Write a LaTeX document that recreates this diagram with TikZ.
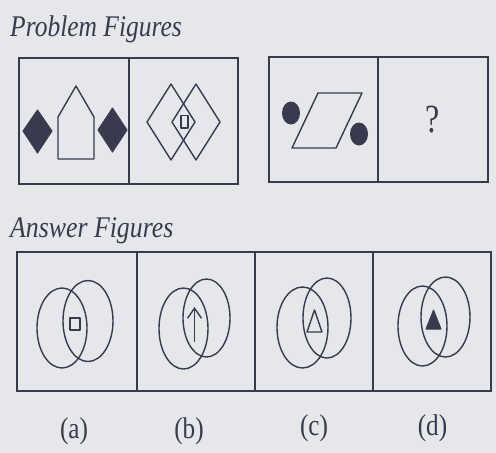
\documentclass[tikz,border=0pt]{standalone}
\usepackage{fontspec}
\setmainfont{Liberation Serif}
\usetikzlibrary{arrows.meta}
\definecolor{bg}{RGB}{229,231,234}
\definecolor{ink}{RGB}{58,58,78}
\begin{document}
\begin{tikzpicture}[x=1pt,y=-1pt,
  line/.style={draw=ink,line width=1.4pt,line join=round},
  frame/.style={draw=ink,line width=1.6pt},
  solid shape/.style={fill=ink,draw=ink,line width=1pt,line join=round},
  title/.style={font=\fontsize{30}{34}\selectfont\itshape,text=ink,anchor=base west,inner sep=0pt},
  lab/.style={font=\fontsize{30}{34}\selectfont,text=ink,anchor=base,inner sep=0pt}]
\fill[bg] (0,0) rectangle (496,453);
\useasboundingbox (0,0) rectangle (496,453);
% titles
\node[title] (pt) at (10,36) {\scalebox{0.85}[1]{Problem Figures}};
\node[title] (at) at (10,237) {\scalebox{0.86}[1]{Answer Figures}};
% problem box 1
\draw[frame] (19,58) rectangle (238,184);
\draw[frame] (129,58) -- (129,184);
\fill[solid shape] (23,131) -- (37.5,110) -- (52,131) -- (37.5,153) -- cycle;
\fill[solid shape] (98,130) -- (112.5,108) -- (127,130) -- (112.5,152) -- cycle;
\draw[line] (58,159) -- (58,117) -- (76,86) -- (94,117) -- (94,159) -- cycle;
\draw[line] (147,122) -- (171,84) -- (195,122) -- (171,160) -- cycle;
\draw[line] (172,122) -- (196,84) -- (220,122) -- (196,160) -- cycle;
\draw[line] (181,115.5) rectangle (188,128);
% problem box 2
\draw[frame] (269,57) rectangle (488,182);
\draw[frame] (378,57) -- (378,182);
\fill[ink] (291,113) ellipse [x radius=9, y radius=11.5];
\fill[ink] (359,134) ellipse [x radius=9, y radius=11.5];
\draw[line] (292,148) -- (336,148) -- (362,93) -- (318,93) -- cycle;
\node[font=\fontsize{40}{44}\selectfont,text=ink,inner sep=0pt,anchor=base] (q) at (433,132) {\scalebox{0.8}[1]{?}};
% answer box
\draw[frame] (17,252) rectangle (491,391);
\draw[frame] (137,252) -- (137,391);
\draw[frame] (255,252) -- (255,391);
\draw[frame] (373,252) -- (373,391);
% (a)
\draw[line] (62,328) ellipse [x radius=25, y radius=40];
\draw[line] (88,321) ellipse [x radius=25, y radius=40.5];
\draw[line] (70,318) rectangle (80,330);
% (b)
\draw[line] (183.5,328.5) ellipse [x radius=24.5, y radius=40.5];
\draw[line] (206.5,318) ellipse [x radius=23.5, y radius=39];
\coordinate (b1) at (194.5,342);
\coordinate (b2) at (194.5,307);
\draw[line,-{Straight Barb[length=10pt,width=14pt,line width=1.4pt]}] (b1) -- (b2);
% (c)
\draw[line] (302.5,327.5) ellipse [x radius=25.5, y radius=40.5];
\draw[line] (327,318) ellipse [x radius=24, y radius=40];
\draw[line] (307,332) -- (314.5,310) -- (322,332) -- cycle;
% (d)
\draw[line] (422.5,326) ellipse [x radius=24.5, y radius=40];
\draw[line] (445.5,317) ellipse [x radius=24.5, y radius=40];
\fill[solid shape] (426,329) -- (433.5,310) -- (441,329) -- cycle;
% labels
\node[lab] (la) at (74,438.5) {\scalebox{0.84}[1]{(a)}};
\node[lab] (lb) at (189,438.5) {\scalebox{0.84}[1]{(b)}};
\node[lab] (lc) at (314,435.5) {\scalebox{0.84}[1]{(c)}};
\node[lab] (ld) at (432.5,435.5) {\scalebox{0.84}[1]{(d)}};
\end{tikzpicture}
\end{document}
